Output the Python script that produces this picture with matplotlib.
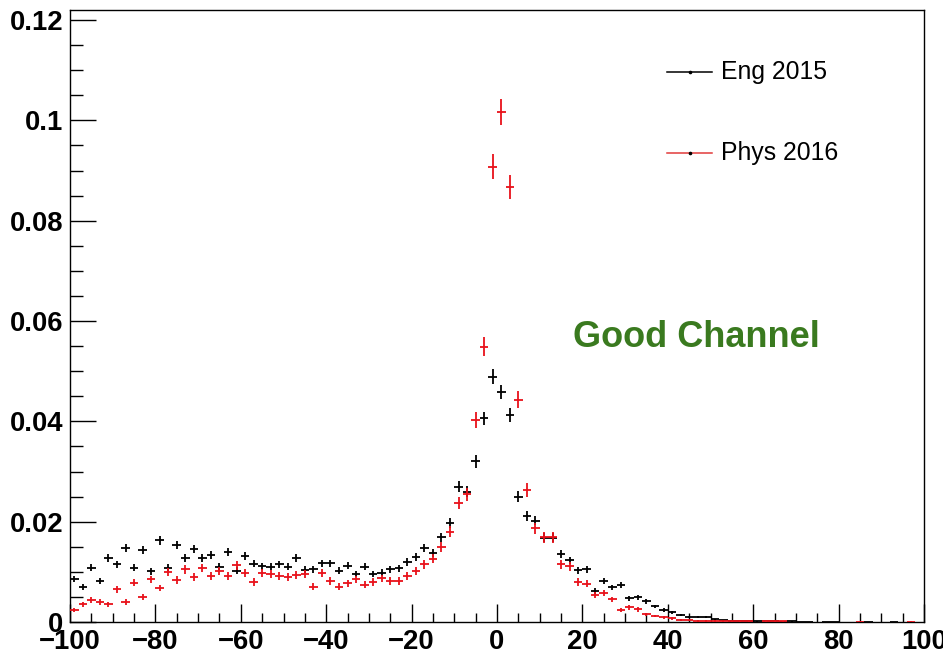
import numpy as np
import matplotlib
matplotlib.use("Agg")
import matplotlib.pyplot as plt
from matplotlib.lines import Line2D
from matplotlib.ticker import MultipleLocator, FixedLocator, FuncFormatter

plt.rcParams['font.family'] = ['Liberation Sans', 'DejaVu Sans']

# bin centres (bin width 2) from -99 to 99
bin_centers = np.arange(-99, 100, 2)
bin_half_width = 1.0

eng_2015 = [
    0.0086, 0.0070, 0.0108, 0.0082, 0.0128, 0.0115, 0.0147, 0.0108, 0.0144, 0.0101,   # -99..-81
    0.0163, 0.0108, 0.0154, 0.0127, 0.0145, 0.0127, 0.0133, 0.0110, 0.0140, 0.0102,   # -79..-61
    0.0131, 0.0116, 0.0111, 0.0110, 0.0115, 0.0110, 0.0128, 0.0104, 0.0105, 0.0117,   # -59..-41
    0.0117, 0.0102, 0.0112, 0.0096, 0.0110, 0.0096, 0.0098, 0.0105, 0.0107, 0.0120,   # -39..-21
    0.0129, 0.0148, 0.0138, 0.0169, 0.0197, 0.0270, 0.0260, 0.0320, 0.0406, 0.0489,   # -19..-1
    0.0459, 0.0413, 0.0250, 0.0211, 0.0202, 0.0168, 0.0168, 0.0136, 0.0123, 0.0103,   # 1..19
    0.0105, 0.0062, 0.0082, 0.0069, 0.0074, 0.0047, 0.0049, 0.0041, 0.0031, 0.0024,   # 21..39
    0.0019, 0.0014, 0.0009, 0.0009, 0.0009, 0.0005, 0.0003, 0.0002, 0.0002, 0.0001,   # 41..59
    0.0001, 0.0001, 0.0001, 0.00005, 0.0001, 0.00005, 0.00005, 0.0, 0.00005, 0.00005, # 61..79
    0.0, 0.0, 0.0, 0.00005, 0.0, 0.0, 0.00005, 0.0, 0.0, 0.0,                         # 81..99
]

phys_2016 = [
    0.0024, 0.0035, 0.0044, 0.0040, 0.0035, 0.0065, 0.0040, 0.0078, 0.0050, 0.0085,   # -99..-81
    0.0068, 0.0100, 0.0084, 0.0105, 0.0090, 0.0108, 0.0092, 0.0101, 0.0092, 0.0113,   # -79..-61
    0.0098, 0.0080, 0.0098, 0.0095, 0.0091, 0.0089, 0.0094, 0.0096, 0.0070, 0.0098,   # -59..-41
    0.0082, 0.0070, 0.0077, 0.0085, 0.0074, 0.0080, 0.0087, 0.0082, 0.0082, 0.0092,   # -39..-21
    0.0102, 0.0115, 0.0126, 0.0149, 0.0180, 0.0237, 0.0255, 0.0403, 0.0549, 0.0908,   # -19..-1
    0.1017, 0.0868, 0.0443, 0.0263, 0.0187, 0.0169, 0.0169, 0.0115, 0.0111, 0.0080,   # 1..19
    0.0076, 0.0054, 0.0058, 0.0045, 0.0024, 0.0029, 0.0025, 0.0015, 0.0012, 0.0009,   # 21..39
    0.0007, 0.0004, 0.0003, 0.0002, 0.0002, 0.0002, 0.0001, 0.0001, 0.0001, 0.0001,   # 41..59
    0.0, 0.0001, 0.0001, 0.0001, 0.0, 0.0, 0.0, 0.0, 0.0, 0.0,                        # 61..79
    0.0, 0.0, 0.00005, 0.0, 0.0, 0.0, 0.0, 0.0, 0.00005, 0.0,                         # 81..99
]

n_entries_eng = 22000
n_entries_phys = 15000

series_labels = ["Eng 2015", "Phys 2016"]
series_colors = ["black", "#e8111a"]
legend_colors = ["black", "#e23b3b"]

x_ticks = [-100, -80, -60, -40, -20, 0, 20, 40, 60, 80, 100]
y_ticks = [0, 0.02, 0.04, 0.06, 0.08, 0.1, 0.12]

annotation = "Good Channel"

W, H = 943, 658
AX_L, AX_R, AX_T, AX_B = 70, 924, 10, 622
fig = plt.figure(figsize=(W / 100, H / 100), dpi=100)
fig.patch.set_facecolor("white")
ax = fig.add_axes([AX_L / W, 1 - AX_B / H, (AX_R - AX_L) / W, (AX_B - AX_T) / H])

for vals, n, col in [(eng_2015, n_entries_eng, series_colors[0]),
                     (phys_2016, n_entries_phys, series_colors[1])]:
    v = np.asarray(vals, dtype=float)
    m = v > 0
    err = np.sqrt(v / n)
    ax.errorbar(bin_centers[m], v[m], yerr=err[m], xerr=bin_half_width,
                fmt="none", ecolor=col, elinewidth=1.3, capsize=0, zorder=3)

ax.set_xlim(-100, 100)
ax.set_ylim(0, 0.122)

fmt = FuncFormatter(lambda v, p: f"{v:g}".replace("-", "\u2212"))
ax.xaxis.set_major_locator(FixedLocator(x_ticks))
ax.xaxis.set_minor_locator(MultipleLocator(5))
ax.yaxis.set_major_locator(FixedLocator(y_ticks))
ax.yaxis.set_minor_locator(MultipleLocator(0.005))
ax.xaxis.set_major_formatter(fmt)
ax.yaxis.set_major_formatter(fmt)

ax.tick_params(axis="x", which="major", direction="in", length=13, width=1.0,
               labelsize=19.8, pad=5.0, top=False)
ax.tick_params(axis="x", which="minor", direction="in", length=6.5, width=1.0, top=False)
ax.tick_params(axis="y", which="major", direction="in", length=19, width=1.0,
               labelsize=19.8, pad=5.0, right=False)
ax.tick_params(axis="y", which="minor", direction="in", length=9.5, width=1.0, right=False)
for lab in ax.get_xticklabels() + ax.get_yticklabels():
    lab.set_fontweight("bold")
for sp in ax.spines.values():
    sp.set_linewidth(1.0)

# legend (ROOT style: line with a small dot, no frame)
def ax_x(px):
    return (px - AX_L) / (AX_R - AX_L)

def ax_y(py):
    return (AX_B - py) / (AX_B - AX_T)

legend_rows = [(72, 79.3), (152.7, 160)]
for (ly, by), lab, col in zip(legend_rows, series_labels, legend_colors):
    ax.add_line(Line2D([ax_x(667), ax_x(712)], [ax_y(ly), ax_y(ly)], transform=ax.transAxes,
                       color=col, lw=1.1, clip_on=False))
    ax.add_line(Line2D([ax_x(689.5)], [ax_y(ly)], transform=ax.transAxes, color="black",
                       marker="o", markersize=1.6, lw=0, clip_on=False))
    ax.text(ax_x(721), ax_y(by), lab, transform=ax.transAxes, ha="left", va="baseline",
            fontsize=17.8, color="black")

ax.text(ax_x(696), ax_y(346.7), annotation, transform=ax.transAxes, ha="center",
        va="baseline", fontsize=26, fontweight="bold", color="#3a7a1f")

fig.savefig("out.png", dpi=100)
